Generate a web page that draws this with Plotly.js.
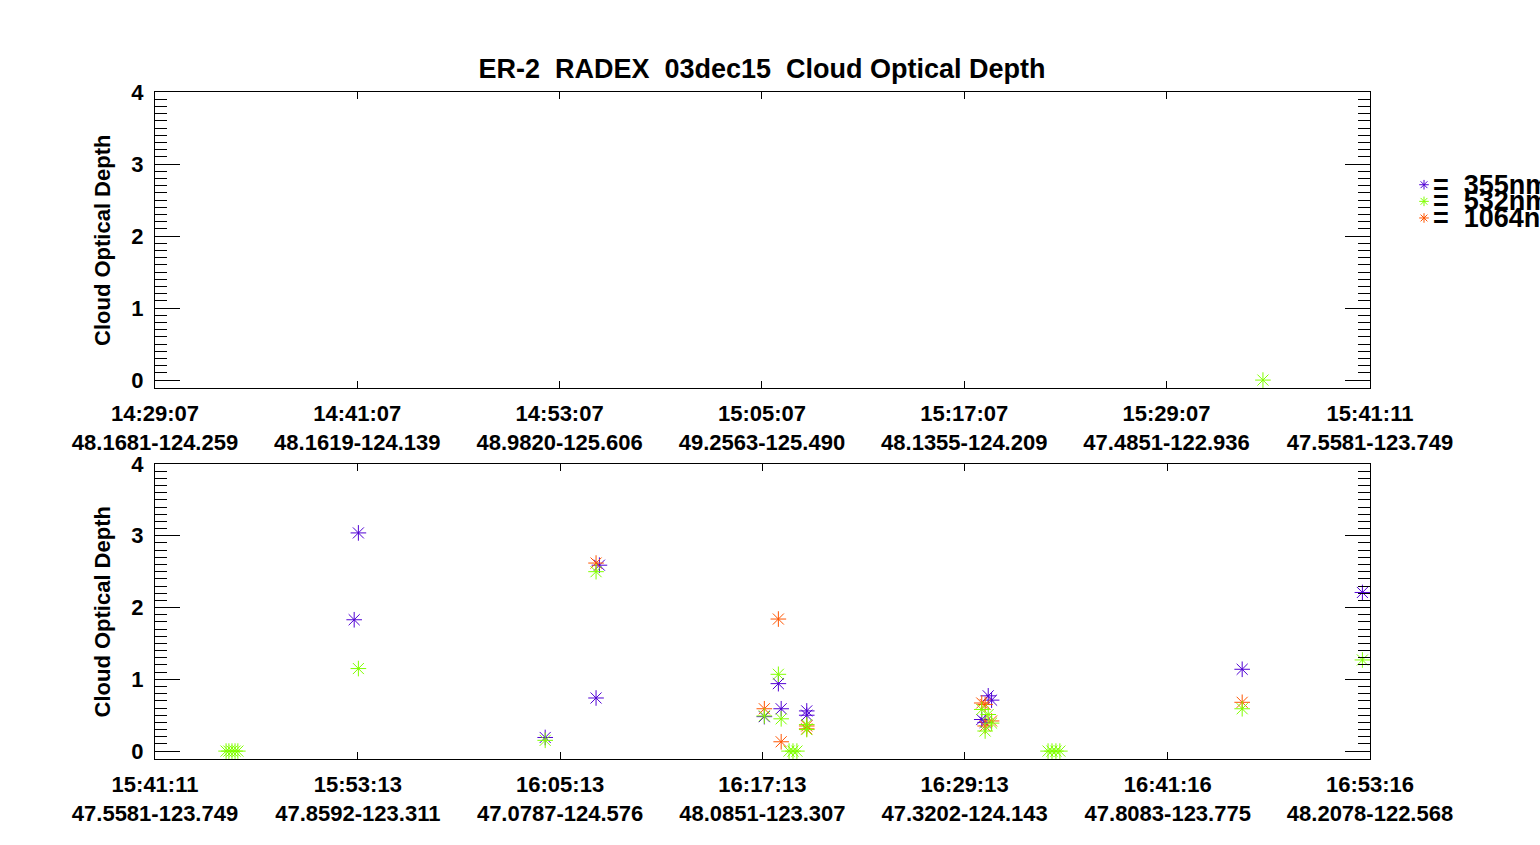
<!DOCTYPE html>
<html>
<head>
<meta charset="utf-8">
<script src="https://cdn.plot.ly/plotly-3.0.1.min.js"></script>
<style>
  html, body { margin: 0; padding: 0; background: #fff; }
  #codPlot { width: 1540px; height: 845px; }
</style>
</head>
<body>
<div id="codPlot"></div>
<script>
// flight day, all times below are UTC on this day
var flightDay = '2015-12-03 ';

// wavelengths and their colours
var bandNames = ['355nm', '532nm', '1064nm'];
var bandColors = ['#5000d4', '#80ff00', '#ff5500'];

// tick labels: time and lat-lon of the aircraft
var topTickTimes = ['14:29:07', '14:41:07', '14:53:07', '15:05:07', '15:17:07', '15:29:07', '15:41:11'];
var topTickPos = ['48.1681-124.259', '48.1619-124.139', '48.9820-125.606', '49.2563-125.490', '48.1355-124.209', '47.4851-122.936', '47.5581-123.749'];
var botTickTimes = ['15:41:11', '15:53:13', '16:05:13', '16:17:13', '16:29:13', '16:41:16', '16:53:16'];
var botTickPos = ['47.5581-123.749', '47.8592-123.311', '47.0787-124.576', '48.0851-123.307', '47.3202-124.143', '47.8083-123.775', '48.2078-122.568'];

// first half of the flight
var top355Time = [];
var top355Cod = [];
var top532Time = ['15:34:50'];
var top532Cod = [0];
var top1064Time = [];
var top1064Cod = [];

// second half of the flight
var bot355Time = ['15:53:15', '15:53:00', '16:04:20', '16:07:33', '16:07:21', '16:18:10', '16:18:20', '16:17:20',
  '16:19:51', '16:19:51', '16:30:37', '16:30:49', '16:30:14', '16:30:26', '16:45:41', '16:52:49'];
var bot355Cod = [3.04, 1.83, 0.19, 2.59, 0.74, 0.94, 0.59, 0.48,
  0.56, 0.50, 0.77, 0.71, 0.44, 0.40, 1.14, 2.21];

var bot532Time = ['15:45:24', '15:45:34', '15:45:45', '15:45:56', '15:46:06', '15:53:15', '16:04:20', '16:07:21',
  '16:18:10', '16:17:20', '16:18:20', '16:18:48', '16:19:02', '16:19:16', '16:19:51', '16:19:51',
  '16:30:14', '16:30:37', '16:30:49', '16:30:26', '16:34:10', '16:34:24', '16:34:38', '16:34:52',
  '16:45:41', '16:52:49'];
var bot532Cod = [0, 0, 0, 0, 0, 1.15, 0.15, 2.50,
  1.07, 0.49, 0.45, 0, 0, 0, 0.37, 0.30,
  0.58, 0.51, 0.39, 0.28, 0, 0, 0, 0,
  0.59, 1.27];

var bot1064Time = ['16:07:21', '16:18:10', '16:17:20', '16:18:20', '16:19:51', '16:19:51',
  '16:30:14', '16:30:26', '16:30:49', '16:30:26', '16:45:41'];
var bot1064Cod = [2.62, 1.84, 0.59, 0.13, 0.35, 0.31,
  0.67, 0.65, 0.42, 0.35, 0.68];

var fontFamily = '"Liberation Sans", Arial, Helvetica, sans-serif';

function stamp(list) {
  return list.map(function (t) { return flightDay + t; });
}

function labels(times, pos) {
  var out = [];
  for (var i = 0; i < times.length; i++) {
    out[i] = times[i] + '<br>' + pos[i];
  }
  return out;
}

function starTrace(times, cods, band, xa, ya) {
  return {
    type: 'scatter',
    mode: 'markers',
    x: stamp(times),
    y: cods,
    xaxis: xa,
    yaxis: ya,
    showlegend: false,
    hoverinfo: 'x+y',
    marker: {
      symbol: 'asterisk-open',
      size: 13,
      color: bandColors[band],
      line: { color: bandColors[band], width: 1 }
    }
  };
}

// purple first, then orange, green on top
var data = [
  starTrace(top355Time, top355Cod, 0, 'x', 'y'),
  starTrace(top1064Time, top1064Cod, 2, 'x', 'y'),
  starTrace(top532Time, top532Cod, 1, 'x', 'y'),
  starTrace(bot355Time, bot355Cod, 0, 'x2', 'y2'),
  starTrace(bot1064Time, bot1064Cod, 2, 'x2', 'y2'),
  starTrace(bot532Time, bot532Cod, 1, 'x2', 'y2')
];

// legend key stars, one row per band
for (var b = 0; b < bandNames.length; b++) {
  data.push({
    type: 'scatter',
    mode: 'markers',
    x: [0],
    y: [b],
    xaxis: 'x3',
    yaxis: 'y3',
    showlegend: false,
    hoverinfo: 'skip',
    marker: {
      symbol: 'asterisk-open',
      size: 8,
      color: bandColors[b],
      line: { color: bandColors[b], width: 1 }
    }
  });
}

var xDomain = [155 / 1540, 1370 / 1540];
var topDomain = [1 - 388 / 845, 1 - 92 / 845];
var botDomain = [1 - 759 / 845, 1 - 464 / 845];

function timeAxis(times, pos, anchor) {
  return {
    type: 'date',
    domain: xDomain,
    anchor: anchor,
    range: [flightDay + times[0], flightDay + times[times.length - 1]],
    tickmode: 'array',
    tickvals: stamp(times),
    ticktext: labels(times, pos),
    ticks: 'inside',
    ticklen: 7,
    tickcolor: '#000',
    tickwidth: 1,
    ticklabelstandoff: 6,
    showline: true,
    linecolor: '#000',
    linewidth: 1,
    mirror: 'allticks',
    showgrid: false,
    zeroline: false,
    tickfont: { family: fontFamily, size: 22, color: '#000', weight: 'bold' }
  };
}

function codAxis(domain, anchor) {
  return {
    domain: domain,
    anchor: anchor,
    range: [-0.11, 4.0],
    tickmode: 'linear',
    tick0: 0,
    dtick: 1,
    ticks: 'inside',
    ticklen: 25,
    tickcolor: '#000',
    tickwidth: 1,
    ticklabelstandoff: 6,
    minor: { dtick: 0.1, ticks: 'inside', ticklen: 12, tickcolor: '#000', tickwidth: 1, showgrid: false },
    showline: true,
    linecolor: '#000',
    linewidth: 1,
    mirror: 'allticks',
    showgrid: false,
    zeroline: false,
    tickfont: { family: fontFamily, size: 22, color: '#000', weight: 'bold' }
  };
}

var annotations = [];
[topDomain, botDomain].forEach(function (d) {
  annotations.push({
    text: 'Cloud Optical Depth',
    xref: 'paper', yref: 'paper',
    x: 102 / 1540, y: (d[0] + d[1]) / 2,
    xanchor: 'center', yanchor: 'middle',
    textangle: -90,
    showarrow: false,
    font: { family: fontFamily, size: 22, color: '#000', weight: 'bold' }
  });
});
for (var k = 0; k < bandNames.length; k++) {
  annotations.push({
    text: '=&nbsp;&nbsp;' + bandNames[k],
    xref: 'paper', yref: 'y3',
    x: 1431 / 1540, y: k,
    xanchor: 'left', yanchor: 'middle',
    showarrow: false,
    font: { family: fontFamily, size: 27, color: '#000', weight: 'bold' }
  });
}

var layout = {
  width: 1540,
  height: 845,
  margin: { l: 0, r: 0, t: 0, b: 0 },
  paper_bgcolor: '#fff',
  plot_bgcolor: '#fff',
  showlegend: false,
  title: {
    text: 'ER-2&nbsp;&nbsp;RADEX&nbsp;&nbsp;03dec15&nbsp;&nbsp;Cloud Optical Depth',
    x: 762 / 1540,
    xanchor: 'center',
    xref: 'paper',
    y: 1 - 69 / 845,
    yanchor: 'middle',
    yref: 'paper',
    font: { family: fontFamily, size: 27, color: '#000', weight: 'bold' }
  },
  xaxis: timeAxis(topTickTimes, topTickPos, 'y'),
  yaxis: codAxis(topDomain, 'x'),
  xaxis2: timeAxis(botTickTimes, botTickPos, 'y2'),
  yaxis2: codAxis(botDomain, 'x2'),
  xaxis3: { domain: [1419 / 1540, 1429 / 1540], range: [-1, 1], visible: false, anchor: 'y3' },
  yaxis3: { domain: [1 - 226.3 / 845, 1 - 176.4 / 845], range: [2.5, -0.5], visible: false, anchor: 'x3' },
  annotations: annotations
};

Plotly.newPlot('codPlot', data, layout, { displayModeBar: false, responsive: false });
</script>
</body>
</html>
